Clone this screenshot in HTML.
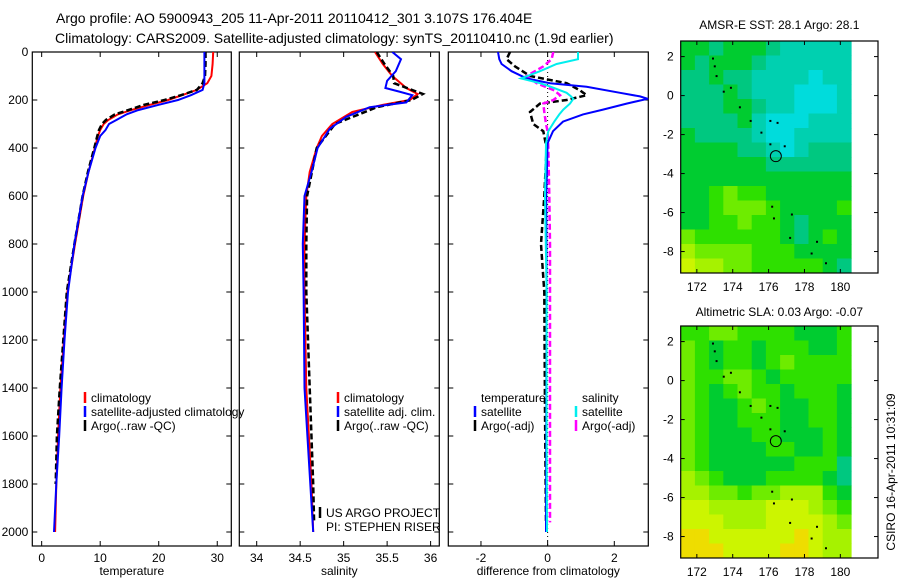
<!DOCTYPE html>
<html><head><meta charset="utf-8"><style>
html,body{margin:0;padding:0;background:#fff;}
svg{display:block;font-family:"Liberation Sans",sans-serif;}
</style></head><body>
<svg id="fig" width="900" height="580" viewBox="0 0 900 580">
<text x="56" y="23" font-size="14">Argo profile: AO 5900943_205 11-Apr-2011 20110412_301 3.107S 176.404E</text>
<text x="55" y="43" font-size="14">Climatology: CARS2009. Satellite-adjusted climatology: synTS_20110410.nc (1.9d earlier)</text>
<text transform="translate(895,472) rotate(-90)" text-anchor="middle" font-size="12">CSIRO 16-Apr-2011 10:31:09</text>
<g id="plots"></g>
</svg>
<script>
// ---- profile data ----
const depthT=[0,50,100,130,158,180,200,220,242,260,283,300,325,350,400,500,600,800,1000,1200,1400,1600,1800,2000];
const climT=[29.3,29.2,29.0,28.3,26.5,24,21.6,18.5,15.3,13,11.4,10.6,10,9.6,9.1,8,7.1,5.7,4.4,3.8,3.2,2.8,2.5,2.3];
const satT=[27.8,27.8,27.8,27.8,27.5,25.5,23.3,20,16.5,14.5,12.8,11.5,10.9,10,9.2,8,7,5.6,4.5,3.9,3.4,3.0,2.5,2.1];
const argoT=[28.0,28.0,27.9,27.5,26.5,23.8,21.0,17.5,14.8,12.5,11.0,10.3,9.8,9.5,9.0,7.9,7.0,5.6,4.3,3.7,3.1,2.6,2.4,2.2];
const depthSc=[0,50,100,150,175,200,220,250,300,350,400,500,600,800,1000,1400,1800,2000];
const climS=[35.36,35.45,35.56,35.72,35.85,35.76,35.45,35.1,34.87,34.75,34.69,34.61,34.57,34.55,34.55,34.57,34.63,34.65];
const depthSs=[0,30,80,120,150,165,180,210,230,270,320,400,500,600,800,1000,1400,2000];
const satS=[35.56,35.66,35.6,35.5,35.48,35.64,35.79,35.72,35.3,35.03,34.84,34.7,34.63,34.55,34.53,34.54,34.55,34.65];
const depthSa=[0,50,100,130,175,200,230,300,400,600,800,1000,1400,1800,1960];
const argoS=[35.38,35.47,35.57,35.58,35.91,35.78,35.38,34.9,34.69,34.58,34.57,34.57,34.61,34.65,34.66];
const depthD=[0,30,50,80,110,130,145,170,185,195,215,240,260,290,330,380,600,1000,1500,2000];
const diffTsat=[-1.49,-1.45,-1.38,-1.08,-0.63,0.07,1.17,2.17,2.77,3.0,2.37,1.66,1.06,0.46,0.16,0.0,-0.04,-0.03,-0.04,-0.05];
const diffSsat=[0.91,0.91,0.27,-0.23,-0.8,-0.23,0.1,0.57,0.7,0.77,0.67,0.47,0.35,0.2,0.02,-0.05,-0.08,-0.03,-0.03,-0.02];
const depthDa=[0,30,60,100,130,160,180,200,215,250,300,330,400,600,800,1000,1500,1960];
const diffTargo=[-1.13,-1.23,-0.98,-0.53,0.57,0.97,1.17,0.57,-0.23,-0.53,-0.43,-0.13,-0.03,-0.1,-0.2,-0.1,-0.08,-0.05];
const diffSargo=[0.17,0.12,-0.13,-0.63,-0.33,0.2,0.37,0.17,-0.13,-0.1,-0.05,0.0,0.02,0.05,0.07,0.07,0.07,0.07];
const depthTicks=[0,200,400,600,800,1000,1200,1400,1600,1800,2000];
const tempTicks=[0,10,20,30];
const salTicks=[34,34.5,35,35.5,36];
const diffTicks=[-2,0,2];
// ---- map data (colour index 0..10) ----
const lonTicks=[172,174,176,178,180];
const latTicks=[2,0,-2,-4,-6,-8];
const sstGrid=[
[5,5,4,5,5,5,4,3,3,3,3,3],[5,4,5,5,5,4,3,3,3,3,3,3],[4,4,5,4,4,3,3,3,3,2,3,3],[4,4,4,5,4,3,3,3,2,2,2,3],
[4,4,4,5,5,4,3,3,2,2,2,3],[4,4,4,4,5,3,2,2,2,3,3,3],[5,4,4,4,4,3,2,2,3,3,3,3],[5,5,5,5,4,4,3,2,3,4,4,4],
[5,5,5,5,5,5,4,4,4,4,4,4],[5,5,5,5,5,5,5,5,5,5,5,5],[5,5,6,7,6,6,5,5,5,5,5,5],[5,5,6,7,7,7,6,5,5,5,5,6],
[5,5,6,6,7,6,6,5,4,5,5,5],[7,6,6,6,6,6,6,5,4,5,6,5],[8,7,7,7,7,6,6,6,5,5,5,5],[9,8,8,7,7,6,6,6,6,6,5,4]];
const slaGrid=[
[6,6,7,7,6,6,6,6,5,5,5,6],[7,6,5,6,6,5,6,6,6,5,5,6],[7,6,5,6,6,5,6,7,6,6,6,6],[7,6,6,7,7,6,5,6,6,6,6,6],
[7,6,5,6,7,6,6,5,6,6,6,5],[7,6,5,5,6,7,6,5,5,6,6,5],[7,6,5,5,6,6,6,5,5,6,6,5],[7,6,5,5,5,6,6,5,5,5,6,5],
[7,6,5,5,5,5,6,6,5,5,6,5],[7,6,5,5,5,5,5,5,6,6,6,4],[8,7,6,5,5,5,6,6,6,6,5,4],[8,8,7,7,6,7,7,8,8,8,6,5],
[9,9,8,8,8,8,9,9,9,8,7,6],[9,9,9,8,8,8,9,9,9,9,8,7],[10,10,9,9,9,9,9,9,10,9,8,8],[10,10,10,9,9,9,9,10,10,9,8,8]];
const islandLon=[172.9,173.0,173.1,173.5,173.9,174.4,175.0,175.6,176.1,176.5,176.1,176.9,176.2,176.3,177.3,177.2,178.7,178.4,179.2];
const islandLat=[1.9,1.5,1.0,0.2,0.4,-0.6,-1.3,-1.9,-1.3,-1.4,-2.5,-2.6,-5.7,-6.3,-6.1,-7.3,-7.5,-8.1,-8.6];
const argoLon=176.404, argoLat=-3.107;
const palette=["#0050ff","#0099ff","#00dcdc","#00d0b0","#00c880","#00cc30","#2ee000","#6eec00","#a6f200","#ccf500","#eedd00"];

const NS="http://www.w3.org/2000/svg";
const root=document.getElementById('plots');
function mk(tag,attrs,parent){const e=document.createElementNS(NS,tag);for(const k in attrs)e.setAttribute(k,attrs[k]);(parent||root).appendChild(e);return e;}

function panel(name,x0,x1,xmin,xmax,xticks,xlabel,showY){
  const y0=52,y1=546;
  const g=mk('g',{});
  
  
  const sx=v=>x0+(v-xmin)/(xmax-xmin)*(x1-x0);
  const sy=d=>52+d*0.24;
  const fr=mk('rect',{x:x0,y:y0,width:x1-x0,height:y1-y0,fill:'none',stroke:'#000','stroke-width':1.2},g);
  
  
  depthTicks.forEach(d=>{
    mk('line',{x1:x0,x2:x0+5,y1:sy(d),y2:sy(d),stroke:'#000'},g);
    mk('line',{x1:x1,x2:x1-5,y1:sy(d),y2:sy(d),stroke:'#000'},g);
    if(showY){const t=mk('text',{x:x0-4,y:sy(d)+4,'text-anchor':'end','font-size':12},g);t.textContent=d;
      
      }
  });
  xticks.forEach(v=>{
    mk('line',{x1:sx(v),x2:sx(v),y1:y1,y2:y1-5,stroke:'#000'},g);
    mk('line',{x1:sx(v),x2:sx(v),y1:y0,y2:y0+5,stroke:'#000'},g);
    const t=mk('text',{x:sx(v),y:y1+16,'text-anchor':'middle','font-size':12},g);t.textContent=v;
    
    
  });
  const xl=mk('text',{x:(x0+x1)/2,y:575,'text-anchor':'middle','font-size':12},g);xl.textContent=xlabel;
  
  
  const clipId=name+'-clip';
  const cp=mk('clipPath',{id:clipId},g);mk('rect',{x:x0,y:y0,width:x1-x0,height:y1-y0},cp);
  const lines=mk('g',{'clip-path':'url(#'+clipId+')'},g);
  return {g,sx,sy,lines};
}
function series(p,depths,vals,color,dash,w,name){
  const pts=vals.map((v,i)=>p.sx(v).toFixed(1)+','+p.sy(depths[i]).toFixed(1)).join(' ');
  const e=mk('polyline',{points:pts,fill:'none',stroke:color,'stroke-width':w||2,'stroke-dasharray':dash||'none'},p.lines);
  
  
}
function legend(items,x,y){
  items.forEach((it,i)=>{
    if(it.c){const m=mk('line',{x1:x,x2:x,y1:y+i*14-10,y2:y+i*14+1,stroke:it.c,'stroke-width':2.5});
      
      }
    const t=mk('text',{x:x+6,y:y+i*14,'font-size':12});t.textContent=it.t;
    
    
  });
}
const p1=panel('temperature-panel',32.3,231.3,-1.6,32.4,tempTicks,'temperature',true);
series(p1,depthT,climT,'#ff0000',null,2,'climatology-temperature-line');
series(p1,depthT.slice(0,23),argoT.slice(0,23),'#000',"6 3",2.5,'argo-temperature-line');
series(p1,depthT,satT,'#0000ff',null,2,'satellite-temperature-line');
legend([{c:'#f00',t:'climatology'},{c:'#00f',t:'satellite-adjusted climatology'},{c:'#000',t:'Argo(..raw -QC)'}],85,402);
const p2=panel('salinity-panel',239.3,439.3,33.8,36.1,salTicks,'salinity',false);
series(p2,depthSc,climS,'#ff0000',null,2,'climatology-salinity-line');
series(p2,depthSa,argoS,'#000',"6 3",2.5,'argo-salinity-line');
series(p2,depthSs,satS,'#0000ff',null,2,'satellite-salinity-line');
legend([{c:'#f00',t:'climatology'},{c:'#00f',t:'satellite adj. clim.'},{c:'#000',t:'Argo(..raw -QC)'}],338,402);
legend([{c:'#000',t:'US ARGO PROJECT'},{t:'PI: STEPHEN RISER'}],320,517);
const p3=panel('difference-panel',448.3,648.3,-2.98,3.02,diffTicks,'difference from climatology',false);
mk('line',{x1:p3.sx(0),x2:p3.sx(0),y1:52,y2:546,stroke:'#000','stroke-dasharray':'1 3'},p3.lines);
series(p3,depthDa,diffTargo,'#000',"6 3",2.5,'argo-temperature-difference-line');
series(p3,depthDa,diffSargo,'#ff00ff',"6 3",2.5,'argo-salinity-difference-line');
series(p3,depthD,diffTsat,'#0000ff',null,2,'satellite-temperature-difference-line');
series(p3,depthD,diffSsat,'#00eeee',null,2,'satellite-salinity-difference-line');
legend([{t:'temperature'},{c:'#00f',t:'satellite'},{c:'#000',t:'Argo(-adj)'}],475,402);
legend([{t:'salinity'},{c:'#0ee',t:'satellite'},{c:'#f0f',t:'Argo(-adj)'}],576,402);

function map(name,title,grid,fy0,fy1,titleY){
  const fx0=680.7,fx1=878,lonMin=171.1,lonMax=182.1;
  const latTop=2.8,latBot=-9.1;
  const sx=l=>fx0+(l-lonMin)/(lonMax-lonMin)*(fx1-fx0);
  const sy=l=>fy0+(latTop-l)/(latTop-latBot)*(fy1-fy0);
  const g=mk('g',{});
  
  
  const rows=grid.length,cols=grid[0].length,lonR=180.6;
  const cw=(lonR-lonMin)/cols,rh=(latTop-latBot)/rows;
  grid.forEach((row,r)=>row.forEach((v,c)=>{
    const xa=sx(lonMin+c*cw),xb=sx(lonMin+(c+1)*cw),ya=sy(latTop-r*rh),yb=sy(latTop-(r+1)*rh);
    const e=mk('rect',{x:xa.toFixed(1),y:ya.toFixed(1),width:(xb-xa+0.5).toFixed(1),height:(yb-ya+0.5).toFixed(1),fill:palette[v]},g);
    
    
  }));
  islandLon.forEach((l,i)=>{
    const e=mk('rect',{x:sx(l)-1,y:sy(islandLat[i])-1,width:2,height:2,fill:'#000'},g);
    
    
  });
  const c=mk('circle',{cx:sx(argoLon),cy:sy(argoLat),r:5.5,fill:'none',stroke:'#000','stroke-width':1},g);
  
  
  const fr=mk('rect',{x:fx0,y:fy0,width:fx1-fx0,height:fy1-fy0,fill:'none',stroke:'#000','stroke-width':1.2},g);
  
  
  lonTicks.forEach(l=>{
    mk('line',{x1:sx(l),x2:sx(l),y1:fy1,y2:fy1-4,stroke:'#000'},g);
    mk('line',{x1:sx(l),x2:sx(l),y1:fy0,y2:fy0+4,stroke:'#000'},g);
    const t=mk('text',{x:sx(l),y:fy1+18,'text-anchor':'middle','font-size':12},g);t.textContent=l;
    
    
  });
  latTicks.forEach(l=>{
    mk('line',{x1:fx0,x2:fx0+4,y1:sy(l),y2:sy(l),stroke:'#000'},g);
    mk('line',{x1:fx1,x2:fx1-4,y1:sy(l),y2:sy(l),stroke:'#000'},g);
    const t=mk('text',{x:fx0-7,y:sy(l)+4,'text-anchor':'end','font-size':12},g);t.textContent=l;
    
    
  });
  const tt=mk('text',{x:(fx0+fx1)/2,y:titleY,'text-anchor':'middle','font-size':12},g);tt.textContent=title;
  
  
}
map('sst-map','AMSR-E SST: 28.1 Argo: 28.1',sstGrid,41,273,29);
map('sla-map','Altimetric SLA: 0.03 Argo: -0.07',slaGrid,326,558,316);
</script>
</body></html>
